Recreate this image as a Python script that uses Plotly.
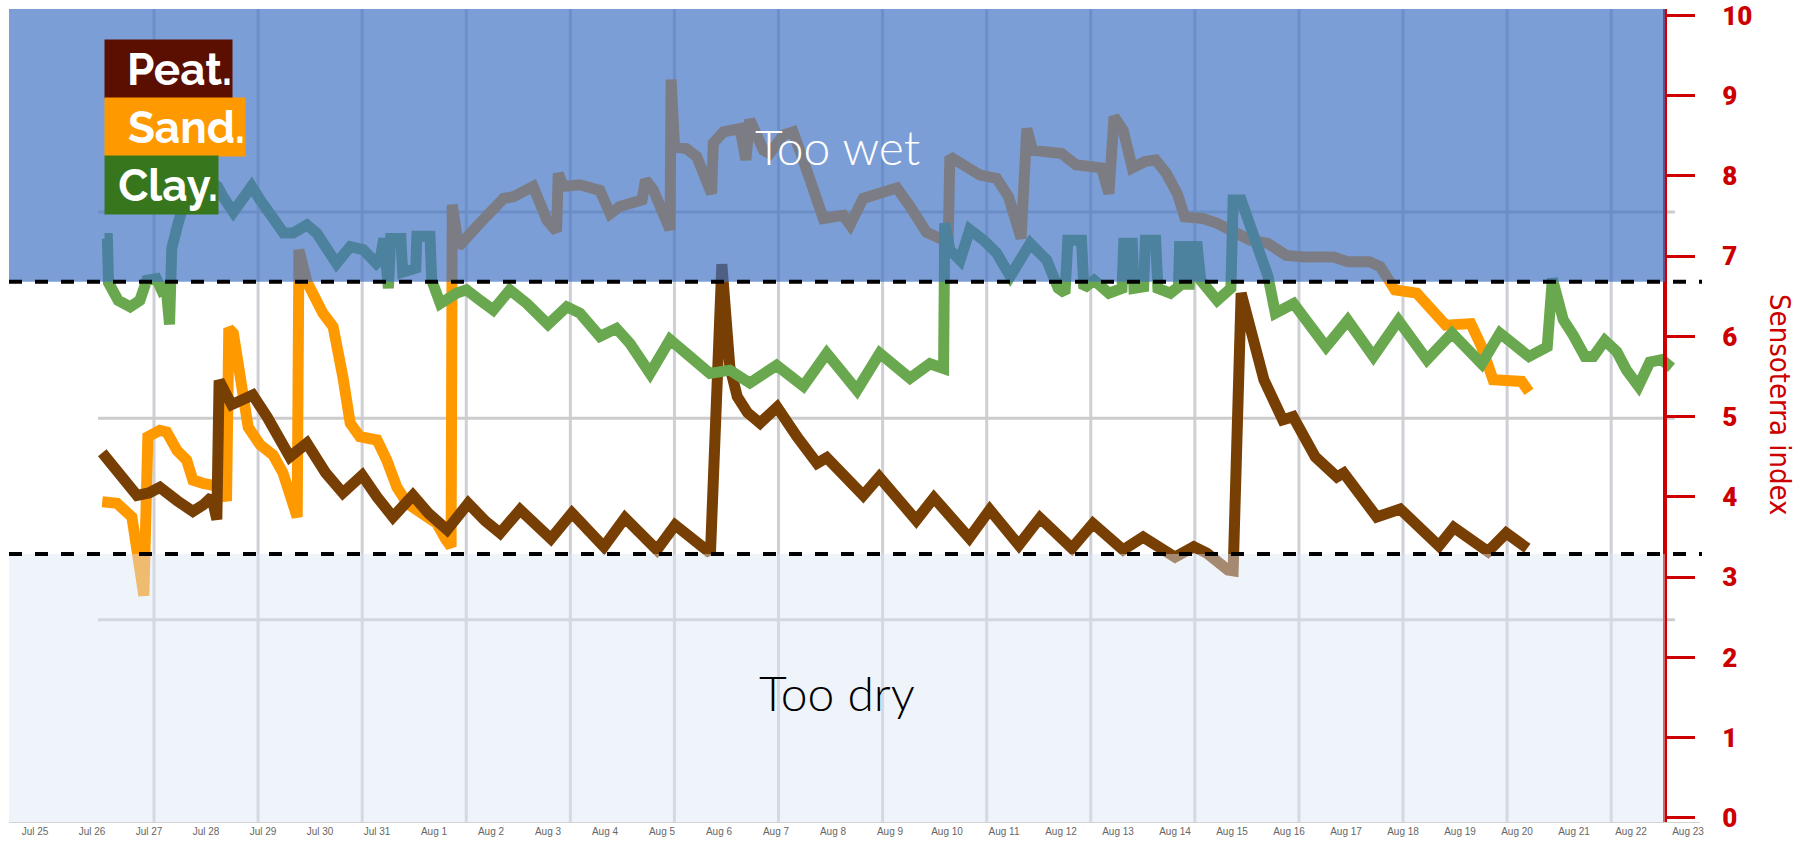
import pandas as pd
import plotly.graph_objects as go

# ---------------- data (day offset from START, Sensoterra index) ----------------
START = pd.Timestamp("2023-07-25")

peat = [(1.18, 4.55), (1.45, 4.30), (1.79, 4.02), (2.00, 4.05), (2.19, 4.12), (2.50, 3.95),
        (2.77, 3.82), (2.95, 3.90), (3.10, 4.00), (3.19, 3.72), (3.23, 5.45), (3.45, 5.15),
        (3.82, 5.27), (4.07, 5.00), (4.47, 4.50), (4.77, 4.67), (5.10, 4.30), (5.40, 4.05),
        (5.74, 4.27), (6.00, 4.00), (6.28, 3.75), (6.63, 4.02), (6.90, 3.80), (7.23, 3.59),
        (7.60, 3.92), (7.90, 3.70), (8.16, 3.55), (8.51, 3.84), (8.80, 3.62), (9.05, 3.48),
        (9.42, 3.80), (9.98, 3.38), (10.35, 3.74), (10.91, 3.34), (11.23, 3.65), (11.85, 3.30),
        (12.05, 6.90), (12.19, 5.62), (12.32, 5.25), (12.50, 5.05), (12.72, 4.92), (13.02, 5.12),
        (13.37, 4.75), (13.72, 4.42), (13.89, 4.49), (14.30, 4.17), (14.53, 4.02), (14.81, 4.25),
        (15.12, 3.98), (15.46, 3.71), (15.77, 3.99), (16.39, 3.49), (16.75, 3.84), (17.26, 3.40),
        (17.63, 3.74), (18.19, 3.36), (18.56, 3.67), (19.09, 3.34), (19.44, 3.50), (20.00, 3.25),
        (20.33, 3.38), (20.56, 3.30), (20.93, 3.09), (21.02, 3.08), (21.16, 6.54), (21.39, 5.87),
        (21.56, 5.46), (21.89, 4.96), (22.07, 5.00), (22.46, 4.50), (22.84, 4.25), (22.96, 4.30),
        (23.54, 3.75), (23.95, 3.85), (24.63, 3.39), (24.89, 3.62), (25.49, 3.32), (25.81, 3.55),
        (26.18, 3.36)]

sand = [(1.18, 3.94), (1.44, 3.92), (1.70, 3.75), (1.91, 2.77), (1.98, 4.75), (2.19, 4.83),
        (2.31, 4.81), (2.49, 4.58), (2.66, 4.46), (2.77, 4.21), (2.95, 4.17), (3.30, 4.12),
        (3.36, 3.95), (3.40, 6.10), (3.48, 6.04), (3.63, 5.42), (3.74, 4.87), (3.95, 4.65),
        (4.18, 4.52), (4.35, 4.30), (4.60, 3.75), (4.63, 7.08), (4.77, 6.68), (5.05, 6.29),
        (5.23, 6.12), (5.40, 5.50), (5.53, 4.92), (5.70, 4.75), (6.00, 4.71), (6.17, 4.46),
        (6.35, 4.12), (6.53, 3.92), (6.81, 3.80), (7.05, 3.67), (7.20, 3.48), (7.30, 3.38),
        (7.32, 7.64), (7.43, 7.12), (7.75, 7.37), (8.22, 7.72), (8.39, 7.74), (8.74, 7.87),
        (8.98, 7.45), (9.15, 7.31), (9.18, 8.03), (9.27, 7.87), (9.56, 7.89), (9.79, 7.85),
        (9.91, 7.82), (10.09, 7.53), (10.26, 7.62), (10.65, 7.70), (10.71, 7.95), (10.85, 7.82),
        (11.02, 7.57), (11.14, 7.33), (11.16, 9.20), (11.22, 8.36), (11.43, 8.34), (11.61, 8.24),
        (11.87, 7.78), (11.90, 8.41), (12.08, 8.55), (12.37, 8.59), (12.47, 8.20), (12.54, 8.70),
        (12.78, 8.32), (12.89, 8.28), (13.13, 8.51), (13.30, 8.55), (13.54, 8.07), (13.71, 7.74),
        (13.83, 7.47), (14.18, 7.51), (14.30, 7.39), (14.53, 7.72), (14.88, 7.80), (15.12, 7.85),
        (15.35, 7.62), (15.64, 7.30), (15.88, 7.22), (16.02, 7.16), (16.05, 8.24), (16.40, 8.07),
        (16.58, 8.01), (16.87, 7.97), (17.08, 7.74), (17.30, 7.22), (17.40, 8.59), (17.50, 8.32),
        (17.82, 8.30), (18.01, 8.28), (18.26, 8.14), (18.71, 8.10), (18.84, 7.78), (18.93, 8.74),
        (19.09, 8.57), (19.25, 8.10), (19.47, 8.18), (19.66, 8.20), (19.85, 8.03), (20.04, 7.78),
        (20.17, 7.49), (20.49, 7.47), (20.74, 7.41), (21.00, 7.30), (21.32, 7.20), (21.63, 7.16),
        (21.95, 7.01), (22.27, 6.99), (22.78, 6.99), (23.03, 6.93), (23.41, 6.93), (23.60, 6.87),
        (23.80, 6.66), (23.86, 6.58), (24.24, 6.54), (24.49, 6.33), (24.75, 6.14), (25.19, 6.16),
        (25.38, 5.87), (25.58, 5.46), (26.08, 5.44), (26.21, 5.31)]

clay = [(1.22, 7.22), (1.27, 7.22), (1.29, 6.67), (1.46, 6.45), (1.67, 6.37), (1.84, 6.45),
        (1.96, 6.70), (2.13, 6.72), (2.22, 6.58), (2.30, 6.62), (2.36, 6.15), (2.40, 7.10),
        (2.51, 7.41), (2.60, 7.64), (2.70, 7.85), (2.85, 8.00), (3.00, 7.95), (3.20, 7.87),
        (3.30, 7.74), (3.48, 7.55), (3.63, 7.70), (3.80, 7.87), (3.95, 7.70), (4.18, 7.49),
        (4.36, 7.29), (4.53, 7.29), (4.77, 7.39), (4.94, 7.29), (5.12, 7.08), (5.29, 6.91),
        (5.53, 7.12), (5.76, 7.08), (5.99, 6.91), (6.05, 6.95), (6.12, 7.22), (6.20, 6.60),
        (6.24, 7.22), (6.42, 7.22), (6.45, 6.80), (6.68, 6.85), (6.70, 7.25), (6.93, 7.25),
        (6.96, 6.70), (7.11, 6.41), (7.40, 6.54), (7.57, 6.58), (7.81, 6.45), (8.04, 6.33),
        (8.33, 6.58), (8.63, 6.41), (9.00, 6.15), (9.33, 6.37), (9.56, 6.29), (9.91, 6.00),
        (10.20, 6.10), (10.44, 5.91), (10.79, 5.54), (11.14, 5.96), (11.49, 5.75), (11.84, 5.54),
        (12.19, 5.58), (12.54, 5.42), (13.01, 5.64), (13.48, 5.38), (13.89, 5.79), (14.42, 5.33),
        (14.82, 5.79), (15.35, 5.48), (15.70, 5.66), (15.94, 5.60), (15.96, 7.41), (16.05, 7.08),
        (16.23, 6.95), (16.40, 7.33), (16.64, 7.20), (16.87, 7.04), (17.11, 6.75), (17.46, 7.16),
        (17.75, 6.95), (17.95, 6.60), (18.07, 6.54), (18.12, 7.20), (18.36, 7.20), (18.40, 6.60),
        (18.58, 6.70), (18.84, 6.54), (19.07, 6.60), (19.10, 7.16), (19.25, 7.16), (19.28, 6.60),
        (19.45, 6.62), (19.48, 7.20), (19.66, 7.20), (19.70, 6.60), (19.92, 6.54), (20.06, 6.62),
        (20.08, 7.12), (20.17, 7.12), (20.20, 6.65), (20.25, 6.65), (20.27, 7.12), (20.39, 7.12),
        (20.45, 6.70), (20.74, 6.45), (20.98, 6.60), (21.02, 7.70), (21.16, 7.70), (21.38, 7.29),
        (21.63, 6.75), (21.76, 6.29), (22.08, 6.41), (22.65, 5.87), (23.03, 6.20), (23.48, 5.75),
        (23.92, 6.20), (24.42, 5.71), (24.86, 6.04), (25.38, 5.66), (25.70, 6.04), (26.21, 5.75),
        (26.53, 5.87), (26.62, 6.72), (26.81, 6.21), (26.99, 6.01), (27.19, 5.75), (27.34, 5.75),
        (27.54, 5.95), (27.75, 5.81), (27.92, 5.58), (28.13, 5.38), (28.33, 5.68), (28.54, 5.71),
        (28.71, 5.61)]

WET_LIMIT = 6.68
DRY_LIMIT = 3.29
Y_TICKS = list(range(0, 11))
LEGEND_LABELS = ["Peat.", "Sand.", "Clay."]
ZONE_LABELS = ["Too wet", "Too dry"]
AXIS_TITLE = "Sensoterra index"

# ---------------- style ----------------
W, H = 1800, 841
ML, MR, MT, MB = 9, 100, 9, 19
Y_RANGE = [-0.05, 10.08]
X_RANGE_DAYS = [-0.456, 29.21]
AXIS_POS = (1665 - ML) / (W - ML - MR)
RED = "#CC0000"


def days_to_dt(days):
    return [START + pd.Timedelta(days=d) for d in days]


def px_x(px):
    return (px - ML) / (W - ML - MR)


def px_y(py):
    return (H - MB - py) / (H - MB - MT)


fig = go.Figure()
series = [(sand, "#FF9900"), (peat, "#783F04"), (clay, "#6AA84F")]
for data, color in series:
    d, v = zip(*data)
    fig.add_trace(go.Scatter(x=days_to_dt(d), y=list(v), mode="lines",
                             line=dict(color=color, width=11), hoverinfo="skip",
                             showlegend=False))

shapes = []
# background grid of the original chart
for k in range(15):
    xd = START + pd.Timedelta(days=2.088 + 1.826 * k)
    shapes.append(dict(type="line", xref="x", yref="paper", x0=xd, x1=xd, y0=0, y1=1,
                       line=dict(color="#cfd0d6", width=3), layer="below"))
for yv in [2.47, 4.98, 7.55]:
    shapes.append(dict(type="line", xref="x", yref="y",
                       x0=START + pd.Timedelta(days=1.105), x1=START + pd.Timedelta(days=28.77),
                       y0=yv, y1=yv, line=dict(color="#cccccc", width=3), layer="below"))
# zone overlays
shapes.append(dict(type="rect", xref="paper", yref="y", x0=0, x1=AXIS_POS,
                   y0=WET_LIMIT, y1=Y_RANGE[1], fillcolor="rgba(62,112,195,0.68)",
                   line=dict(width=0), layer="above"))
shapes.append(dict(type="rect", xref="paper", yref="y", x0=0, x1=AXIS_POS,
                   y0=Y_RANGE[0], y1=DRY_LIMIT, fillcolor="rgba(220,228,245,0.45)",
                   line=dict(width=0), layer="above"))
for yv in [WET_LIMIT, DRY_LIMIT]:
    shapes.append(dict(type="line", xref="paper", yref="y", x0=0, x1=px_x(1702),
                       y0=yv, y1=yv, line=dict(color="black", width=4, dash="13px,13px"),
                       layer="above"))

annotations = []
legend_colors = ["#5B0F00", "#FF9900", "#38761D"]
legend_tops = [39, 97, 155]
legend_widths = [127, 140, 113]
for lab, col, top, wd in zip(LEGEND_LABELS, legend_colors, legend_tops, legend_widths):
    annotations.append(dict(text=lab, xref="paper", yref="paper", x=px_x(104), y=px_y(top),
                            xanchor="left", yanchor="top", showarrow=False, bgcolor=col,
                            width=wd, height=58, align="right", valign="middle", borderpad=0,
                            font=dict(family="Raleway, Lato, Open Sans, sans-serif", size=44,
                                      color="white", weight="bold")))
annotations.append(dict(text=ZONE_LABELS[0], xref="paper", yref="paper", x=px_x(837),
                        y=px_y(146), showarrow=False, xanchor="center", yanchor="middle",
                        font=dict(family="Lato, sans-serif", size=48, color="white", weight=300)))
annotations.append(dict(text=ZONE_LABELS[1], xref="paper", yref="paper", x=px_x(837),
                        y=px_y(692), showarrow=False, xanchor="center", yanchor="middle",
                        font=dict(family="Lato, sans-serif", size=48, color="black", weight=300)))
annotations.append(dict(text=AXIS_TITLE, xref="paper", yref="paper", x=px_x(1780),
                        y=px_y(405), showarrow=False, textangle=90, xanchor="center",
                        yanchor="middle",
                        font=dict(family="DejaVu Sans Condensed, Liberation Sans Narrow, sans-serif",
                                  size=29, color=RED, weight=300)))

fig.update_layout(
    width=W, height=H, autosize=False,
    margin=dict(l=ML, r=MR, t=MT, b=MB, pad=0, autoexpand=False),
    plot_bgcolor="white", paper_bgcolor="white",
    shapes=shapes, annotations=annotations, showlegend=False,
    xaxis=dict(type="date", range=days_to_dt(X_RANGE_DAYS), tickformat="%b %-d",
               dtick=86400000, tick0=START, showgrid=False, zeroline=False, automargin=False,
               showline=True, linecolor="#d3d3d3", linewidth=1, ticks="",
               tickfont=dict(family="Liberation Sans Narrow, Liberation Sans, Arial", size=10,
                             color="#666666")),
    yaxis=dict(range=Y_RANGE, side="right", anchor="free", position=AXIS_POS,
               tickvals=Y_TICKS, showgrid=False, zeroline=False, showline=True,
               automargin=False,
               linecolor=RED, linewidth=4, ticks="outside", ticklen=28, tickwidth=3,
               tickcolor=RED, ticklabelstandoff=22, ticklabeloverflow="allow",
               tickfont=dict(family="Roboto, Open Sans, sans-serif", size=26, color=RED,
                             weight=900)),
)

fig.write_html("out.html", config={"displayModeBar": False},
               post_script="document.body.style.margin='0';")
